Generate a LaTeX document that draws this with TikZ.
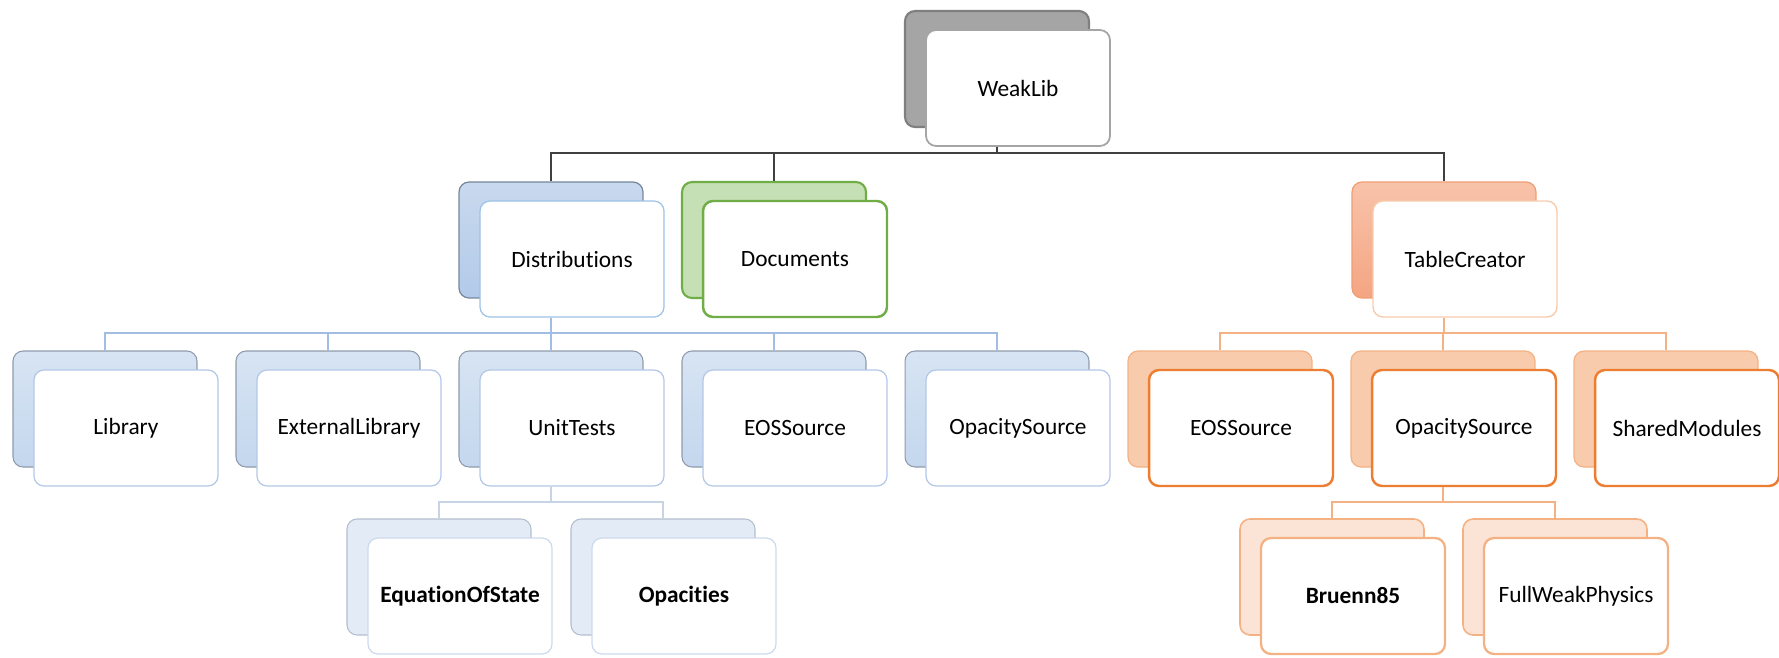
\documentclass[tikz,border=0pt]{standalone}
\usepackage{fontspec}
\setmainfont{Carlito}[Ligatures={NoCommon,NoRequired,NoContextual}]
\usepackage{tikz}
\usetikzlibrary{positioning}

\definecolor{grayfill}{HTML}{A5A5A5}
\definecolor{grayline}{HTML}{7F7F7F}
\definecolor{blueline}{HTML}{9DC3E6}
\definecolor{bluetop}{HTML}{C9D9EE}
\definecolor{bluebot}{HTML}{B2CAE9}
\definecolor{bluedark}{HTML}{76879C}
\definecolor{subtop}{HTML}{D7E4F3}
\definecolor{subbot}{HTML}{C4D7EE}
\definecolor{subdark}{HTML}{8F9BAC}
\definecolor{subline}{HTML}{B4C7E7}
\definecolor{leaffill}{HTML}{E3EBF6}
\definecolor{leafdark}{HTML}{B3BFD0}
\definecolor{leafline}{HTML}{CCDAEE}
\definecolor{greenfill}{HTML}{C5E0B4}
\definecolor{greenline}{HTML}{70AD47}
\definecolor{saltop}{HTML}{F8C3AA}
\definecolor{salbot}{HTML}{F4A582}
\definecolor{salline}{HTML}{EF9D75}
\definecolor{orangeline}{HTML}{ED7D31}
\definecolor{peachline}{HTML}{F4B183}
\definecolor{peachfill}{HTML}{F8CBAD}
\definecolor{palepeach}{HTML}{FBE4D5}
\definecolor{linkdark}{HTML}{404040}
\definecolor{linkblue}{HTML}{A2BDE2}
\definecolor{linkpale}{HTML}{C7D4E6}

\tikzset{
  card/.style={rectangle, rounded corners=0.2cm, minimum width=3.68cm,
               minimum height=2.32cm, inner sep=0pt},
  back/.style={card},
  front/.style={card, fill=white, text=black, xshift=0.42cm, yshift=-0.38cm,
                font=\fontsize{13.3}{16}\selectfont},
  % back cards, one per colour group
  grayback/.style={back, fill=grayfill, draw=grayline, line width=1.2pt},
  distback/.style={back, top color=bluetop, bottom color=bluebot, draw=bluedark, line width=0.7pt},
  docback/.style={back, fill=greenfill, draw=greenline, line width=1.2pt},
  tabback/.style={back, top color=saltop, bottom color=salbot, draw=salline, line width=0.7pt},
  subback/.style={back, top color=subtop, bottom color=subbot, draw=subdark, line width=0.6pt},
  srcback/.style={back, fill=peachfill, draw=peachline, line width=0.7pt},
  leafback/.style={back, fill=leaffill, draw=leafdark, line width=0.6pt},
  physback/.style={back, fill=palepeach, draw=peachline, line width=0.9pt},
  % front cards
  grayfront/.style={front, draw=grayfill, line width=1pt},
  distfront/.style={front, draw=blueline, line width=0.7pt},
  docfront/.style={front, draw=greenline, line width=1.4pt},
  tabfront/.style={front, draw=peachfill, line width=0.8pt},
  subfront/.style={front, draw=subline, line width=0.7pt},
  srcfront/.style={front, draw=orangeline, line width=1.4pt},
  leaffront/.style={front, draw=leafline, line width=0.7pt},
  physfront/.style={front, draw=peachline, line width=1.3pt},
  % connectors
  linktop/.style={draw=linkdark, line width=0.6pt},
  linkb/.style={draw=linkblue, line width=1.5pt},
  linkp/.style={draw=linkpale, line width=1.4pt},
  linkpeach/.style={draw=peachline, line width=0.7pt},
}

\begin{document}
\begin{tikzpicture}[x=0.02cm, y=-0.02cm]
  \useasboundingbox (0,0) rectangle (1779,657);

  % bus heights between levels
  \coordinate (bus1) at (0,153);
  \coordinate (bus2) at (0,333);
  \coordinate (bus3) at (0,502);

  % level 1
  \node[grayback] (wlB) at (997,69) {};
  \node[grayfront] (wl) at (wlB) {WeakLib};

  % level 2
  \node[distback] (distB) at (551,240) {};
  \node[distfront] (dist) at (distB) {Distributions};
  \node[docback] (docB) at (774,240) {};
  \node[docfront] (doc) at (docB) {Documents};
  \node[tabback] (tabB) at (1444,240) {};
  \node[tabfront] (tab) at (tabB) {TableCreator};

  % level 3, under Distributions
  \node[subback] (libB) at (105,409) {};
  \node[subfront] (lib) at (libB) {Library};
  \node[subback] (extB) at (328,409) {};
  \node[subfront] (ext) at (extB) {ExternalLibrary};
  \node[subback] (unitB) at (551,409) {};
  \node[subfront] (unit) at (unitB) {UnitTests};
  \node[subback] (eosB) at (774,409) {};
  \node[subfront] (eos) at (eosB) {EOSSource};
  \node[subback] (opaB) at (997,409) {};
  \node[subfront] (opa) at (opaB) {OpacitySource};

  % level 3, under TableCreator
  \node[srcback] (teosB) at (1220,409) {};
  \node[srcfront] (teos) at (teosB) {EOSSource};
  \node[srcback] (topaB) at (1443,409) {};
  \node[srcfront] (topa) at (topaB) {OpacitySource};
  \node[srcback] (shmB) at (1666,409) {};
  \node[srcfront] (shm) at (shmB) {SharedModules};

  % level 4
  \node[leafback] (eqsB) at (439,577) {};
  \node[leaffront] (eqs) at (eqsB) {\bfseries EquationOfState};
  \node[leafback] (opcB) at (663,577) {};
  \node[leaffront] (opc) at (opcB) {\bfseries Opacities};
  \node[physback] (brB) at (1332,577) {};
  \node[physfront] (br) at (brB) {\bfseries Bruenn85};
  \node[physback] (fwpB) at (1555,577) {};
  \node[physfront] (fwp) at (fwpB) {FullWeakPhysics};

  % connectors
  \foreach \c in {distB,docB,tabB}
    \draw[linktop] (wlB |- wl.south) -- (wlB |- bus1) -| (\c.north);
  \foreach \c in {libB,extB,unitB,eosB,opaB}
    \draw[linkb] (distB |- dist.south) -- (distB |- bus2) -| (\c.north);
  \foreach \c in {teosB,topaB,shmB}
    \draw[linkpeach] (tabB |- tab.south) -- (tabB |- bus2) -| (\c.north);
  \foreach \c in {eqsB,opcB}
    \draw[linkp] (unitB |- unit.south) -- (unitB |- bus3) -| (\c.north);
  \foreach \c in {brB,fwpB}
    \draw[linkpeach] (topaB |- topa.south) -- (topaB |- bus3) -| (\c.north);
\end{tikzpicture}
\end{document}
